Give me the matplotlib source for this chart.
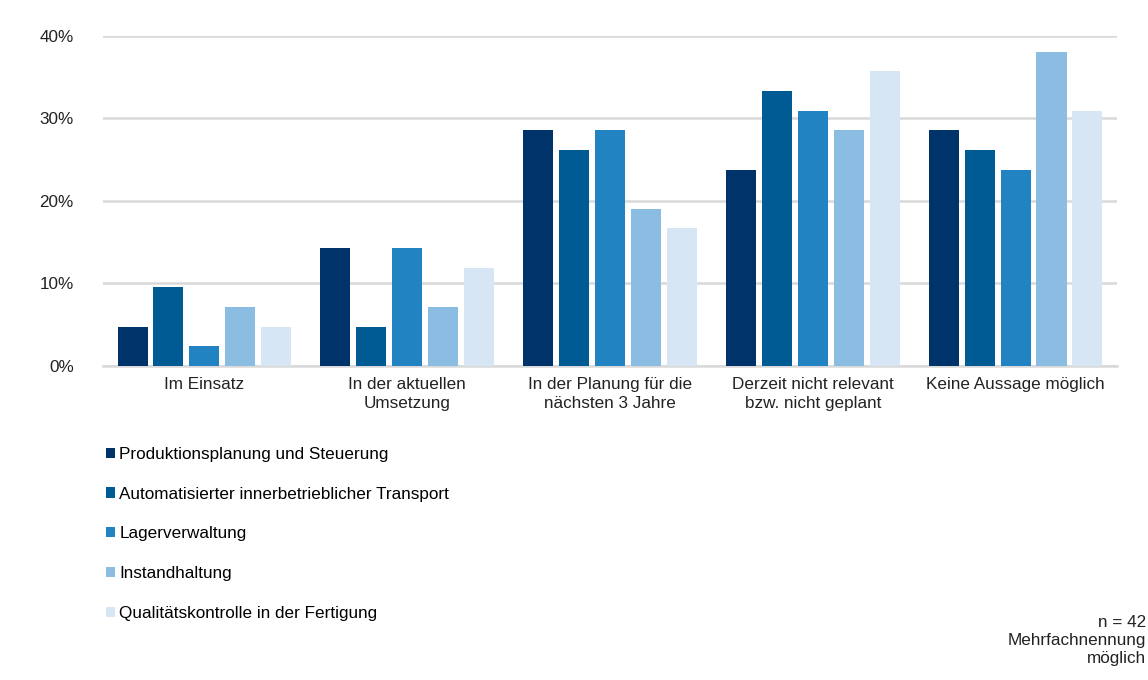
import matplotlib.pyplot as plt
import numpy as np

# Data (n = 42, shares in percent)
categories = ["Im Einsatz", "In der aktuellen\nUmsetzung", "In der Planung für die\nnächsten 3 Jahre",
              "Derzeit nicht relevant\nbzw. nicht geplant", "Keine Aussage möglich"]
series = ["Produktionsplanung und Steuerung", "Automatisierter innerbetrieblicher Transport",
          "Lagerverwaltung", "Instandhaltung", "Qualitätskontrolle in der Fertigung"]
produktion = [4.76, 14.29, 28.57, 23.81, 28.57]
transport = [9.52, 4.76, 26.19, 33.33, 26.19]
lager = [2.38, 14.29, 28.57, 30.95, 23.81]
instandhaltung = [7.14, 7.14, 19.05, 28.57, 38.10]
qualitaet = [4.76, 11.90, 16.67, 35.71, 30.95]
values = [produktion, transport, lager, instandhaltung, qualitaet]
colors = ["#00336A", "#005A94", "#2183C2", "#8BBDE3", "#D6E6F4"]

plt.rcParams['font.family'] = ['Liberation Sans', 'DejaVu Sans']
fs = 12.3

fig = plt.figure(figsize=(11.48, 6.8), dpi=100)
ax = fig.add_axes([0.0897, 0.4618, 0.8833, 0.4853])

x = np.arange(len(categories))
pitch = 0.177
width = 0.148
handles = []
for i, (vals, c) in enumerate(zip(values, colors)):
    b = ax.bar(x + (i - 2) * pitch, vals, width, color=c, label=series[i], zorder=3)
    handles.append(b)

ax.set_xlim(-0.5, len(categories) - 0.5)
ax.set_ylim(0, 40)
ax.set_yticks([0, 10, 20, 30, 40])
ax.set_yticklabels([f"{v}%" for v in [0, 10, 20, 30, 40]])
ax.set_xticks(x)
ax.set_xticklabels(categories, linespacing=1.3)
ax.tick_params(axis='both', length=0, labelsize=fs, colors='#222222')
ax.tick_params(axis='y', pad=21)
ax.tick_params(axis='x', pad=8)
ax.yaxis.grid(True, color='#D9D9D9', linewidth=1.8, zorder=0)
for s in ['top', 'right', 'left']:
    ax.spines[s].set_visible(False)
ax.spines['bottom'].set_color('#D9D9D9')
ax.spines['bottom'].set_linewidth(1.8)

fig.legend(handles=handles, labels=series, loc='upper left', bbox_to_anchor=(0.086, 0.353),
           frameon=False, fontsize=fs, handlelength=0.55, handleheight=0.55,
           handletextpad=0.25, labelspacing=1.45, borderaxespad=0)

fig.text(0.998, 0.058, "n = 42\nMehrfachnennung\nmöglich", ha='right', va='center',
         fontsize=fs, color='#222222', linespacing=1.25)

fig.savefig("out.png", dpi=100)
